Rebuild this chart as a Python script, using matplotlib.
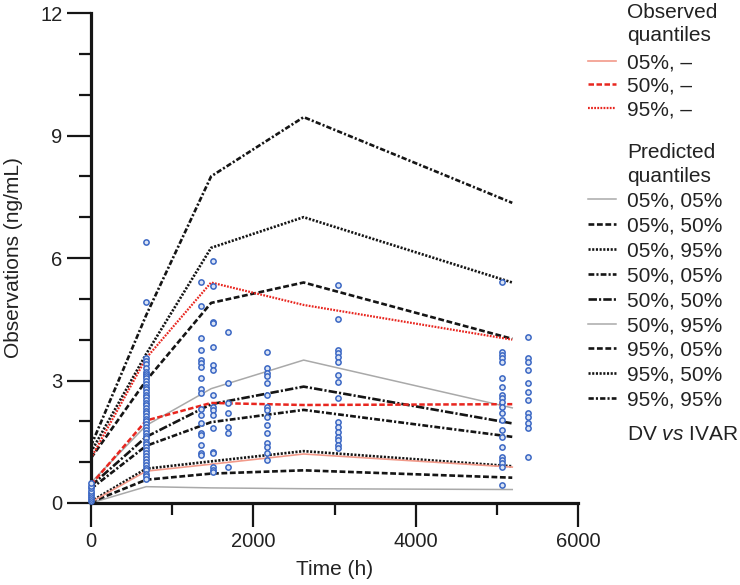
import matplotlib
matplotlib.use("Agg")
import matplotlib.pyplot as plt
from matplotlib.lines import Line2D
import numpy as np

plt.rcParams['font.family'] = ['Liberation Sans', 'DejaVu Sans']
plt.rcParams['mathtext.fontset'] = 'custom'
plt.rcParams['mathtext.rm'] = 'Liberation Sans'
plt.rcParams['mathtext.it'] = 'Liberation Sans:italic'

# ---------------- data ----------------
time_nodes = [0, 680, 1480, 2620, 5190]

obs_q05 = [0.02, 0.78, 0.95, 1.20, 0.88]
obs_q50 = [0.45, 2.02, 2.45, 2.40, 2.42]
obs_q95 = [1.10, 3.55, 5.40, 4.85, 4.00]

pred_05_05 = [0.00, 0.40, 0.37, 0.35, 0.33]
pred_05_50 = [0.02, 0.57, 0.72, 0.80, 0.62]
pred_05_95 = [0.04, 0.84, 1.02, 1.27, 0.90]
pred_50_05 = [0.35, 1.40, 1.98, 2.28, 1.62]
pred_50_50 = [0.42, 1.62, 2.42, 2.85, 1.95]
pred_50_95 = [0.50, 1.90, 2.80, 3.50, 2.33]
pred_95_05 = [1.10, 3.00, 4.90, 5.40, 4.02]
pred_95_50 = [1.25, 3.65, 6.25, 7.00, 5.40]
pred_95_95 = [1.40, 4.60, 8.00, 9.45, 7.35]

dv_times = {
    0: [0.06, 0.10, 0.15, 0.20, 0.25, 0.30, 0.36, 0.42, 0.48],
    680: [6.40, 4.93, 3.55, 3.48, 3.40, 3.30, 3.22, 3.15, 3.10, 3.05, 2.98, 2.92,
          2.85, 2.80, 2.72, 2.65, 2.60, 2.52, 2.45, 2.40, 2.33, 2.25, 2.20, 2.12,
          2.05, 2.00, 1.93, 1.86, 1.80, 1.72, 1.65, 1.58, 1.50, 1.45, 1.38, 1.30,
          1.22, 1.15, 1.08, 1.00, 0.93, 0.86, 0.80, 0.72, 0.65, 0.60],
    1360: [5.42, 4.83, 4.04, 3.75, 3.50, 3.43, 3.33, 3.06, 2.80, 2.70, 2.30,
           2.16, 1.96, 1.71, 1.67, 1.42, 1.22, 1.18],
    1500: [5.92, 5.32, 4.44, 4.40, 3.83, 3.38, 3.26, 2.65, 2.35, 2.28, 2.16,
           1.83, 1.25, 1.22, 0.88, 0.80, 0.77],
    1690: [4.19, 2.94, 2.45, 2.20, 1.86, 1.71, 0.88],
    2170: [3.70, 3.30, 3.18, 3.10, 2.94, 2.65, 2.35, 2.28, 2.10, 1.90, 1.71,
           1.47, 1.37, 1.22, 1.05],
    3045: [5.34, 4.50, 3.75, 3.68, 3.57, 3.46, 3.14, 2.97, 2.57, 1.99, 1.86,
           1.74, 1.62, 1.54, 1.42, 1.35],
    5060: [5.42, 3.70, 3.62, 3.55, 3.45, 3.06, 2.85, 2.65, 2.57, 2.48, 2.35,
           2.20, 2.03, 1.79, 1.62, 1.37, 1.13, 1.05, 0.98, 0.88, 0.44],
    5385: [4.07, 3.55, 3.46, 3.26, 2.94, 2.72, 2.52, 2.20, 2.10, 1.96, 1.83, 1.13],
}

x_major = [0, 2000, 4000, 6000]
x_minor = [1000, 3000, 5000]
y_major = [0, 3, 6, 9, 12]
y_minor = [1, 2, 4, 5, 7, 8, 10, 11]

# ---------------- styles ----------------
BLACK = '#151515'
GREY = '#a9a9a9'
RED = '#e8261f'
LRED = '#f29a8a'
dash = (0, (2.2, 1.0))
dot = (0, (0.8, 0.6))
dashdot1 = (0, (2.2, 0.8, 0.8, 0.8))
dashdot2 = (0, (3.2, 0.8, 0.8, 0.8))
dashdot3 = (0, (2.0, 0.8, 0.8, 0.8))

series = [
    ('05%, \u2013', obs_q05, dict(color=LRED, lw=1.2, ls='-')),
    ('50%, \u2013', obs_q50, dict(color=RED, lw=1.8, ls=dash)),
    ('95%, \u2013', obs_q95, dict(color=RED, lw=1.6, ls=dot)),
    ('05%, 05%', pred_05_05, dict(color=GREY, lw=1.1, ls='-')),
    ('05%, 50%', pred_05_50, dict(color=BLACK, lw=1.9, ls=dash)),
    ('05%, 95%', pred_05_95, dict(color=BLACK, lw=1.9, ls=dot)),
    ('50%, 05%', pred_50_05, dict(color=BLACK, lw=1.9, ls=dashdot1)),
    ('50%, 50%', pred_50_50, dict(color=BLACK, lw=1.9, ls=dashdot2)),
    ('50%, 95%', pred_50_95, dict(color=GREY, lw=1.1, ls='-')),
    ('95%, 05%', pred_95_05, dict(color=BLACK, lw=1.9, ls=dash)),
    ('95%, 50%', pred_95_50, dict(color=BLACK, lw=1.9, ls=dot)),
    ('95%, 95%', pred_95_95, dict(color=BLACK, lw=1.9, ls=dashdot3)),
]

W, H = 740, 585
fig = plt.figure(figsize=(W / 100, H / 100), dpi=100)
ax = fig.add_axes([91 / W, 1 - 503 / H, (578 - 91) / W, (503 - 13) / H])

order = [3, 4, 5, 6, 7, 8, 9, 10, 11, 0, 1, 2]
for i in order:
    lab, vals, st = series[i]
    ax.plot(time_nodes, vals, zorder=2, **st)

for t, vals in dv_times.items():
    ax.plot([t] * len(vals), vals, ls='none', marker='o', ms=3.8,
            mfc='#dbe4f5', mec='#3c68c4', mew=1.1, zorder=3, clip_on=False)

ax.set_xlim(0, 6000)
ax.set_ylim(0, 12)
ax.set_xticks(x_major)
ax.set_xticks(x_minor, minor=True)
ax.set_yticks(y_major)
ax.set_yticks(y_minor, minor=True)
ax.set_xticklabels([str(v) for v in x_major])
ax.set_yticklabels([str(v) for v in y_major])

for s in ['top', 'right']:
    ax.spines[s].set_visible(False)
for s in ['left', 'bottom']:
    ax.spines[s].set_linewidth(2.3)
    ax.spines[s].set_color(BLACK)

ax.tick_params(which='major', length=17.5, width=1.6, color=BLACK,
               labelsize=14.5, labelcolor='#222222')
ax.tick_params(axis='x', which='major', pad=3.5)
ax.tick_params(axis='y', which='major', pad=3.0)
ax.tick_params(which='minor', length=8.5, width=1.6, color=BLACK)

ax.set_xlabel('Time (h)', fontsize=15, color='#222222')
ax.set_ylabel('Observations (ng/mL)', fontsize=15, color='#222222')
ax.xaxis.set_label_coords((335 - 91) / 487, -(560 - 503) / 490)
ax.yaxis.set_label_coords(-(91 - 23) / 487, 0.5)

# ---------------- legend (manual) ----------------
def fx(px):
    return px / W

def fy(py):
    return 1 - py / H

TX = 627
fs = 15
tc = '#222222'
fig.text(fx(TX), fy(17.5), 'Observed', fontsize=fs, color=tc, va='baseline')
fig.text(fx(TX), fy(41), 'quantiles', fontsize=fs, color=tc, va='baseline')
obs_lines = [61, 84.3, 107.5]
for k in range(3):
    lab, vals, st = series[k]
    y = obs_lines[k]
    fig.add_artist(Line2D([fx(588), fx(616)], [fy(y), fy(y)],
                          transform=fig.transFigure, **st))
    fig.text(fx(TX), fy(y + 7.5), lab, fontsize=fs, color=tc, va='baseline')

fig.text(fx(TX), fy(158), 'Predicted', fontsize=fs, color=tc, va='baseline')
fig.text(fx(TX), fy(181.5), 'quantiles', fontsize=fs, color=tc, va='baseline')
for k in range(3, 12):
    lab, vals, st = series[k]
    y = 199 + (k - 3) * 24.9
    fig.add_artist(Line2D([fx(588), fx(616)], [fy(y), fy(y)],
                          transform=fig.transFigure, **st))
    fig.text(fx(TX), fy(y + 7.5), lab, fontsize=fs, color=tc, va='baseline')

fig.text(fx(TX), fy(440), 'DV $\\mathit{vs}$ IVAR', fontsize=fs, color=tc, va='baseline')

fig.savefig('out.png', dpi=100)
